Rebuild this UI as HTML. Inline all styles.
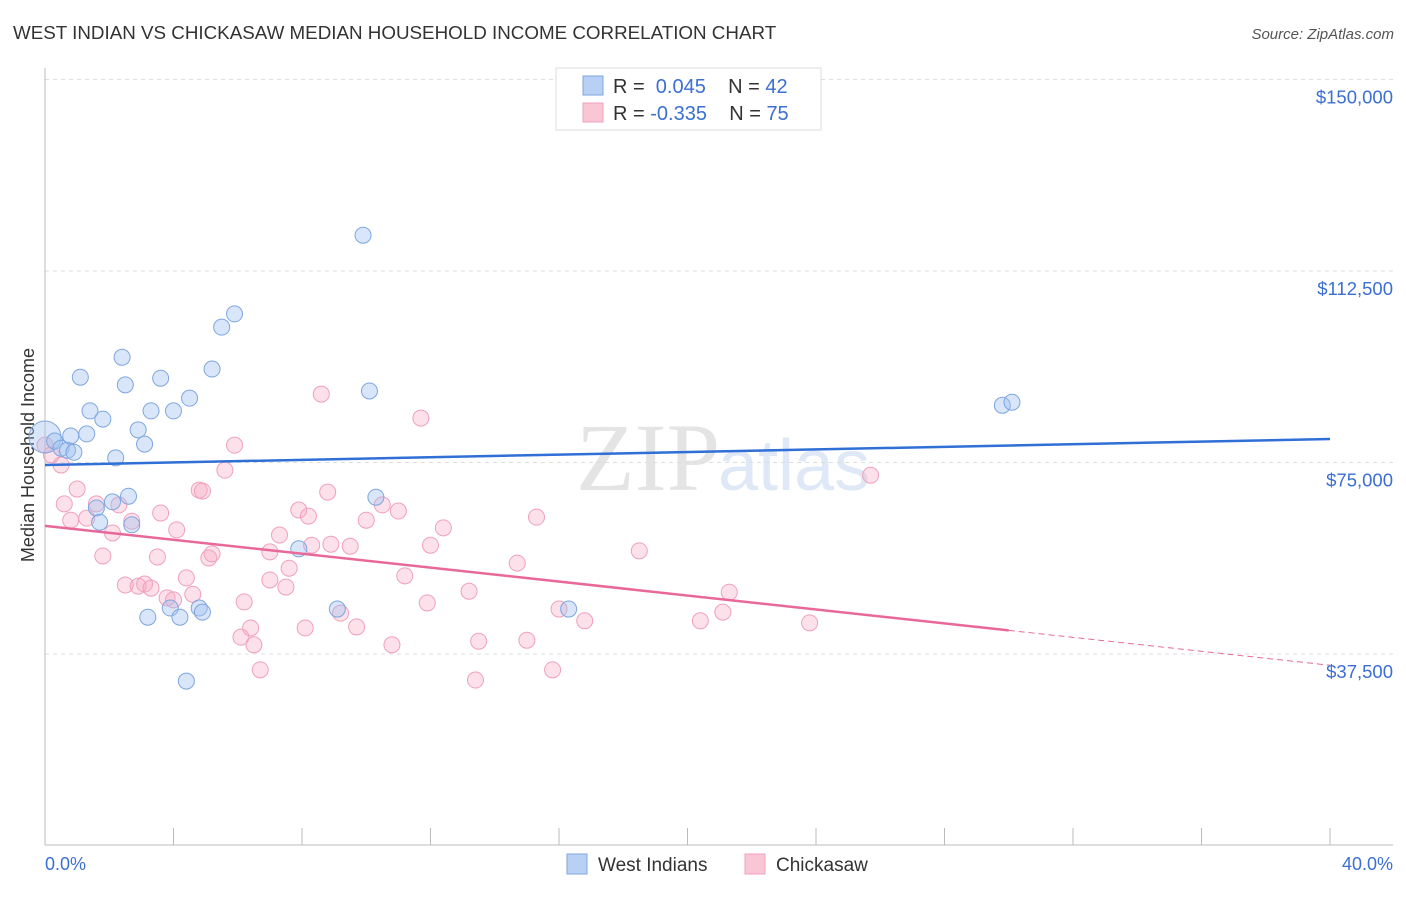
<!DOCTYPE html>
<html><head><meta charset="utf-8"><style>
body{margin:0;background:#fff;font-family:"Liberation Sans",sans-serif}
</style></head><body>
<svg id="chart" width="1406" height="892" xmlns="http://www.w3.org/2000/svg" font-family="Liberation Sans, sans-serif">
<text x="13" y="39" font-size="18.8" fill="#333">WEST INDIAN VS CHICKASAW MEDIAN HOUSEHOLD INCOME CORRELATION CHART</text>
<text x="1394" y="39" font-size="15" fill="#555" text-anchor="end" font-style="italic">Source: ZipAtlas.com</text>
<text x="720" y="490" font-size="96" fill="#e4e4e4" text-anchor="end" font-family="Liberation Serif, serif">ZIP</text>
<text x="718" y="490" font-size="72" fill="#dfe8f6">atlas</text>
<text transform="translate(34,455) rotate(-90)" font-size="18" fill="#333" text-anchor="middle">Median Household Income</text>
<g id="grid"></g><g id="pts"></g><g id="lines"></g>
<g>
<rect x="556" y="68" width="265" height="62" fill="#fff" stroke="#ddd"/>
<rect x="583" y="76" width="20" height="19" fill="#b8d0f4" stroke="#7ea6e0"/>
<rect x="583" y="103" width="20" height="19" fill="#f9c6d6" stroke="#f0a0bc"/>
<text x="613" y="93" font-size="20" fill="#333">R = <tspan fill="#3b6fd4">&#160;0.045</tspan>&#160;&#160;&#160;&#160;N = <tspan fill="#3b6fd4">42</tspan></text>
<text x="613" y="120" font-size="20" fill="#333">R = <tspan fill="#3b6fd4">-0.335</tspan>&#160;&#160;&#160;&#160;N = <tspan fill="#3b6fd4">75</tspan></text>
</g>
<text x="45" y="870" font-size="18" fill="#3b6fd4">0.0%</text>
<text x="1393" y="870" font-size="18" fill="#3b6fd4" text-anchor="end">40.0%</text>
<g><rect x="567" y="854" width="20" height="20" fill="#b8d0f4" stroke="#7ea6e0"/><text x="598" y="871" font-size="19" fill="#333">West Indians</text></g>
<g><rect x="745" y="854" width="20" height="20" fill="#f9c6d6" stroke="#f0a0bc"/><text x="776" y="871" font-size="19" fill="#333">Chickasaw</text></g>
</svg>
<script>
const yTicks=[37500,75000,112500,150000];
const yTickLabels=["$37,500","$75,000","$112,500","$150,000"];
const blueX=[0,.3,.5,.7,.9,.8,1.3,1.1,1.4,1.8,2.2,2.4,2.5,2.6,2.1,1.6,1.7,2.7,2.9,3.1,3.3,3.6,4.0,4.5,5.2,5.5,5.9,3.2,3.9,4.2,4.8,4.9,4.4,9.9,10.1,10.3,7.9,9.1,16.3,29.8,30.1];
const blueY=[80.0,79.2,77.8,77.4,77.0,80.2,80.6,91.7,85.1,83.5,75.9,95.6,90.2,68.4,67.3,66.1,63.3,62.8,81.4,78.6,85.1,91.5,85.1,87.6,93.3,101.5,104.1,44.7,46.5,44.7,46.5,45.7,32.2,119.5,89.0,68.2,58.1,46.3,46.3,86.2,86.8];
const pinkX=[0,.2,.5,.6,1.0,.8,1.3,1.6,1.8,2.1,2.3,2.5,2.7,2.9,3.1,3.3,3.5,3.6,3.8,4.0,4.1,4.4,4.6,4.8,4.9,5.1,5.2,5.6,5.9,6.1,6.2,6.4,6.5,6.7,7.0,7.0,7.3,7.5,7.6,7.9,8.1,8.2,8.3,8.6,8.8,8.9,9.2,9.5,9.7,10.0,10.5,11.0,10.8,11.2,11.7,11.9,12.0,12.4,13.2,13.4,13.5,14.7,15.0,15.3,15.8,16.0,16.8,18.5,20.4,21.1,21.3,23.8,25.7];
const pinkY=[78.4,76.5,74.5,66.9,69.8,63.7,64.1,66.9,56.7,61.2,66.7,51.0,63.5,50.8,51.2,50.4,56.5,65.1,48.5,48.1,61.8,52.4,49.2,69.6,69.4,56.3,57.1,73.5,78.4,40.8,47.7,42.6,39.3,34.4,57.5,52.0,60.8,50.6,54.3,65.7,42.6,64.5,58.8,88.4,69.2,59.0,45.5,58.6,42.8,63.7,66.7,65.5,39.3,52.8,83.7,47.5,58.8,62.2,49.8,32.4,40.0,55.3,40.2,64.3,34.4,46.3,44.0,57.7,44.0,45.7,49.6,43.6,72.5];
const blueTrend=[74.5,79.6];
const pinkTrend=[62.6,35.3];
const xs=v=>45+v*(1285/40);
const ys=v=>845.5-v*1000*(191.5/37500);
const NS="http://www.w3.org/2000/svg";
function mk(t,a,p){const e=document.createElementNS(NS,t);for(const k in a)e.setAttribute(k,a[k]);p.appendChild(e);return e;}
const grid=document.getElementById('grid');
yTicks.forEach((t,i)=>{
 const l=mk('line',{x1:45,x2:1393,y1:ys(t/1000),y2:ys(t/1000),stroke:'#ddd','stroke-dasharray':'4,4'},grid);
 
 
 const tx=mk('text',{x:1393,y:ys(t/1000)+24,'font-size':18.5,fill:'#3b6fd4','text-anchor':'end'},grid);
 tx.textContent=yTickLabels[i];
 
 
});
const ax=mk('line',{x1:45,x2:1393,y1:845,y2:845,stroke:'#bbb'},grid);


const ay=mk('line',{x1:45,x2:45,y1:68,y2:845,stroke:'#bbb'},grid);


for(let i=0;i<=10;i++){const tk=mk('line',{x1:xs(i*4),x2:xs(i*4),y1:828,y2:845,stroke:'#bbb'},grid);
 
 }
const pts=document.getElementById('pts');
pinkX.forEach((x,i)=>{const c=mk('circle',{cx:xs(x),cy:ys(pinkY[i]),r:8,fill:'rgba(246,170,196,0.35)',stroke:'#f0a0bc','stroke-width':1},pts);
 
 });
blueX.forEach((x,i)=>{const c=mk('circle',{cx:xs(x),cy:ys(blueY[i]),r:i==0?16:8,fill:'rgba(160,192,240,0.4)',stroke:'#7ea6e0','stroke-width':1},pts);
 
 });
const lines=document.getElementById('lines');
const bl=mk('line',{x1:xs(0),y1:ys(blueTrend[0]),x2:xs(40),y2:ys(blueTrend[1]),stroke:'#2f6fd6','stroke-width':2.5},lines);


const pAt=x=>pinkTrend[0]+(pinkTrend[1]-pinkTrend[0])*x/40;
const pl=mk('line',{x1:xs(0),y1:ys(pAt(0)),x2:xs(30),y2:ys(pAt(30)),stroke:'#e8689a','stroke-width':2.5},lines);


const pd=mk('line',{x1:xs(30),y1:ys(pAt(30)),x2:xs(40),y2:ys(pAt(40)),stroke:'#e8689a','stroke-width':1,'stroke-dasharray':'6,4'},lines);


</script>
</body></html>
